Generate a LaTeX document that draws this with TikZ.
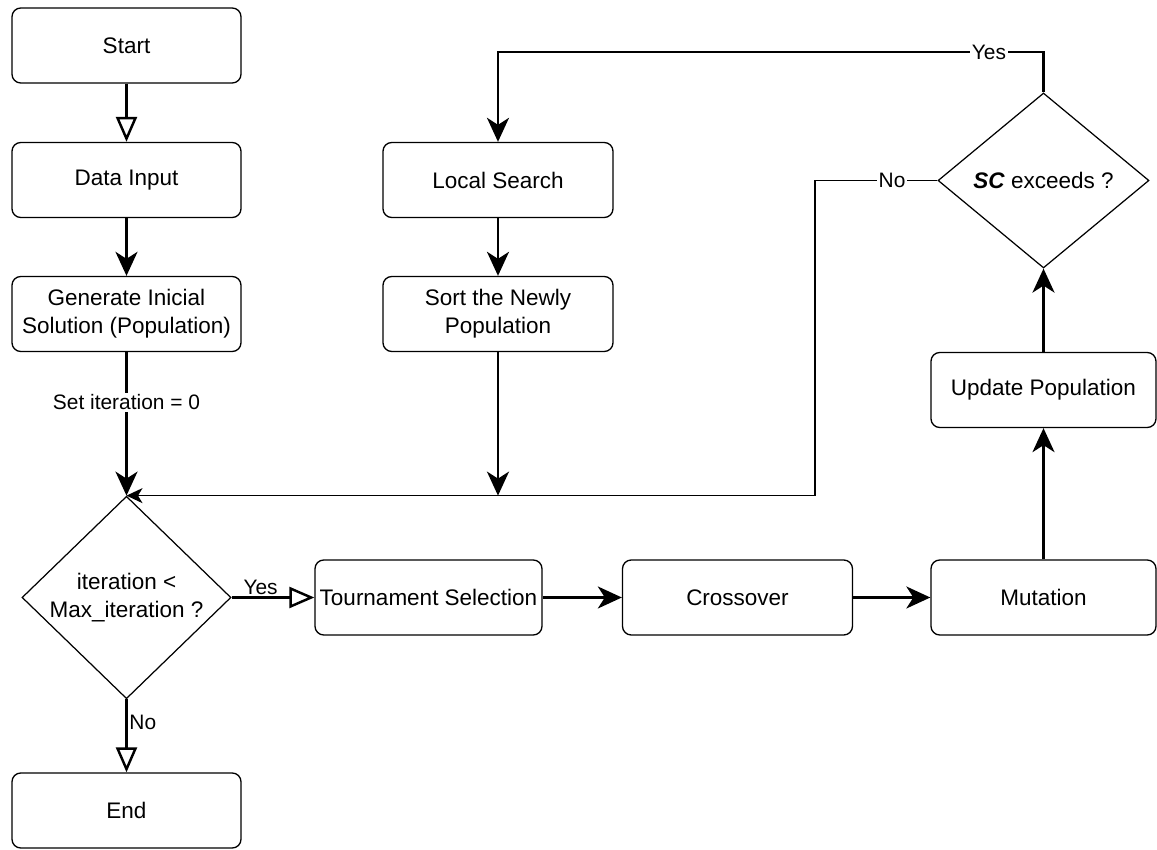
\documentclass[tikz,border=0pt]{standalone}
\usepackage{fontspec}
\setmainfont{Liberation Sans}
\usetikzlibrary{shapes.geometric,arrows.meta}

\begin{document}
\begin{tikzpicture}[
	box/.style={draw, line width=0.75pt, rounded corners=5pt, minimum width=4.58cm, minimum height=1.5cm, inner xsep=1pt, align=center, font=\fontsize{12.8}{15.9}\selectfont},
	decision/.style={draw, line width=0.7pt, diamond, inner sep=0pt, align=center, font=\fontsize{12.8}{15.9}\selectfont},
	flow/.style={line width=1.4pt, -{Stealth[length=0.48cm, width=0.44cm, inset=0.14cm]}},
	flowopen/.style={line width=1.4pt, -{Triangle[open, fill=white, length=0.5cm, width=0.42cm]}},
	flowthin/.style={line width=0.75pt, -{Stealth[length=0.32cm, width=0.3cm, inset=0.09cm]}},
	lbl/.style={font=\fontsize{11.9}{14}\selectfont, inner sep=1pt},
]
				\useasboundingbox (0,0) rectangle (23.14,17);
				% left column
				\node[box] (start) at (2.53,16.09) {Start};
				\node[box] (input) at (2.53,13.40) {Data Input};
				\node[box] (gen) at (2.53,10.72) {Generate Inicial\\Solution (Population)};
				\node[decision, minimum width=4.18cm, minimum height=3.78cm] (dec1) at (2.53,5.05) {iteration <\\Max\_iteration ?};
				\node[box] (end) at (2.53,0.79) {End};
				% bottom row
				\node[box, minimum width=4.54cm] (tour) at (8.57,5.05) {Tournament Selection};
				\node[box, minimum width=4.6cm] (cross) at (14.75,5.05) {Crossover};
				\node[box, minimum width=4.5cm] (mut) at (20.87,5.05) {Mutation};
				% right column
				\node[box, minimum width=4.5cm] (upd) at (20.87,9.20) {Update Population};
				\node[decision, minimum width=4.22cm, minimum height=3.5cm] (dec2) at (20.87,13.39) {\textbf{\textit{SC}} exceeds ?};
				% middle column
				\node[box, minimum width=4.6cm] (local) at (9.96,13.40) {Local Search};
				\node[box, minimum width=4.6cm] (sort) at (9.96,10.72) {Sort the Newly\\Population};
				\coordinate (yesturn) at (20.87,15.96);
				\coordinate (noturn) at (16.30,13.39);
				\coordinate (sortend) at (sort.south |- dec1.north);
				\draw[flowopen] (start) -- (input);
				\draw[flow] (input) -- (gen);
				\draw[flow] (gen) -- node[lbl, fill=white, pos=0.35] {Set iteration = 0} (dec1);
				\draw[flowopen] (dec1) -- node[lbl, right, pos=0.32] {No} (end);
				\draw[flowopen] (dec1) -- node[lbl, above, pos=0.35] {Yes} (tour);
				\draw[flow] (tour) -- (cross);
				\draw[flow] (cross) -- (mut);
				\draw[flow] (mut) -- (upd);
				\draw[flow] (upd) -- (dec2);
				\draw[flow] (dec2.north) -- (yesturn) -| node[lbl, fill=white, pos=0.05] {Yes} (local.north);
				\draw[flow] (local) -- (sort);
				\draw[flow] (sort) -- (sortend);
				\draw[flowthin] (dec2.west) -- node[lbl, fill=white, pos=0.37] {No} (noturn) |- (dec1.north);
			\end{tikzpicture}
\end{document}
